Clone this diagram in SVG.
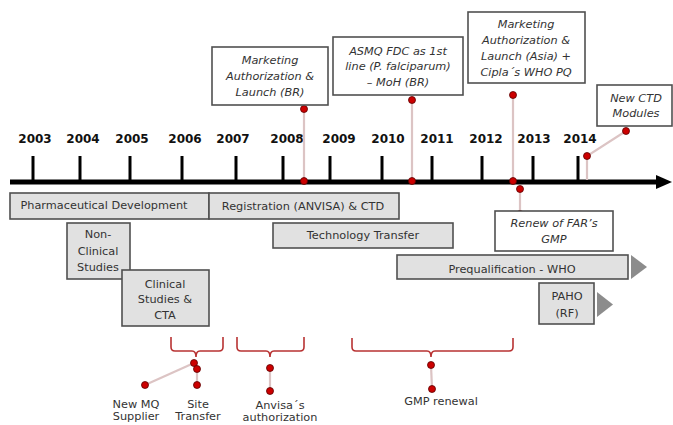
<svg xmlns="http://www.w3.org/2000/svg" width="673" height="425" viewBox="0 0 673 425">
  <style>
    text { font-family: "DejaVu Sans", Verdana, sans-serif; font-size: 11.3px; fill: #333; text-anchor: middle; }
    .year { font-weight: bold; font-size: 12px; fill: #111; }
    .note { font-style: italic; }
    .bar { fill: #e1e1e1; stroke: #505050; stroke-width: 1.6; }
    .callout { fill: #fff; stroke: #505050; stroke-width: 1.6; }
    .tick { stroke: #000; stroke-width: 3; }
    .stem { stroke: #dcc4c4; stroke-width: 2.2; fill: none; }
    .dot { fill: #cc0000; stroke: #5a0000; stroke-width: 0.8; }
    .brace { fill: none; stroke: #b83232; stroke-width: 1.6; }
    .cont { fill: #8c8c8c; }
  </style>

  <!-- time axis -->
  <g id="axis">
    <line x1="10" y1="182" x2="660" y2="182" stroke="#000" stroke-width="5"/>
    <polygon points="656,175 672,182 656,189" fill="#000"/>
    <line class="tick" x1="33" y1="156" x2="33" y2="182"/>
    <line class="tick" x1="80" y1="156" x2="80" y2="182"/>
    <line class="tick" x1="130" y1="156" x2="130" y2="182"/>
    <line class="tick" x1="182" y1="156" x2="182" y2="182"/>
    <line class="tick" x1="236" y1="156" x2="236" y2="182"/>
    <line class="tick" x1="283" y1="156" x2="283" y2="182"/>
    <line class="tick" x1="330" y1="156" x2="330" y2="182"/>
    <line class="tick" x1="382" y1="156" x2="382" y2="182"/>
    <line class="tick" x1="432" y1="156" x2="432" y2="182"/>
    <line class="tick" x1="482" y1="156" x2="482" y2="182"/>
    <line class="tick" x1="533" y1="156" x2="533" y2="182"/>
    <line class="tick" x1="578" y1="156" x2="578" y2="182"/>
    <text class="year" x="35" y="143">2003</text>
    <text class="year" x="83" y="143">2004</text>
    <text class="year" x="132" y="143">2005</text>
    <text class="year" x="185" y="143">2006</text>
    <text class="year" x="233" y="143">2007</text>
    <text class="year" x="287" y="143">2008</text>
    <text class="year" x="339" y="143">2009</text>
    <text class="year" x="388" y="143">2010</text>
    <text class="year" x="437" y="143">2011</text>
    <text class="year" x="486" y="143">2012</text>
    <text class="year" x="534" y="143">2013</text>
    <text class="year" x="580" y="143">2014</text>
  </g>

  <!-- connectors -->
  <g id="connectors">
    <line class="stem" x1="304" y1="109" x2="304" y2="181"/>
    <line class="stem" x1="412" y1="100" x2="412" y2="181"/>
    <line class="stem" x1="513" y1="95" x2="513" y2="181"/>
    <line class="stem" x1="520" y1="189" x2="520" y2="214"/>
    <polyline class="stem" points="626,131 587,156 587,180"/>
    <line class="stem" x1="145" y1="385" x2="194" y2="363"/>
    <line class="stem" x1="197" y1="369" x2="197" y2="385"/>
    <line class="stem" x1="270" y1="368" x2="270" y2="391"/>
    <line class="stem" x1="431" y1="365" x2="432" y2="389"/>

    <path class="brace" d="M171,337 L171,347 Q171,351 175,351 L192,351 Q196,351 196,357 Q196,351 200,351 L219,351 Q223,351 223,347 L223,337"/>
    <path class="brace" d="M237,337 L237,347 Q237,351 241,351 L266,351 Q270,351 270,357 Q270,351 274,351 L300,351 Q304,351 304,347 L304,337"/>
    <path class="brace" d="M352,338 L352,347 Q352,351 356,351 L427,351 Q431,351 431,357 Q431,351 435,351 L509,351 Q513,351 513,347 L513,338"/>

    <circle class="dot" cx="304" cy="109" r="3.5"/>
    <circle class="dot" cx="304" cy="181" r="3.5"/>
    <circle class="dot" cx="412" cy="100" r="3.5"/>
    <circle class="dot" cx="412" cy="181" r="3.5"/>
    <circle class="dot" cx="513" cy="95" r="3.5"/>
    <circle class="dot" cx="513" cy="181" r="3.5"/>
    <circle class="dot" cx="520" cy="189" r="3.5"/>
    <circle class="dot" cx="520" cy="214" r="3.5"/>
    <circle class="dot" cx="626" cy="131" r="3.5"/>
    <circle class="dot" cx="587" cy="156" r="3.5"/>
    <circle class="dot" cx="194" cy="363" r="3.5"/>
    <circle class="dot" cx="197" cy="369" r="3.5"/>
    <circle class="dot" cx="145" cy="385" r="3.5"/>
    <circle class="dot" cx="197" cy="385" r="3.5"/>
    <circle class="dot" cx="270" cy="368" r="3.5"/>
    <circle class="dot" cx="270" cy="391" r="3.5"/>
    <circle class="dot" cx="431" cy="365" r="3.5"/>
    <circle class="dot" cx="432" cy="389" r="3.5"/>
  </g>

  <!-- phase bars -->
  <g id="pharma-dev">
    <rect class="bar" x="10" y="193" width="199" height="26"/>
    <text x="104" y="209">Pharmaceutical Development</text>
  </g>
  <g id="registration">
    <rect class="bar" x="209" y="193" width="190" height="26"/>
    <text x="303" y="210">Registration (ANVISA) &amp; CTD</text>
  </g>
  <g id="tech-transfer">
    <rect class="bar" x="273" y="223" width="180" height="25"/>
    <text x="363" y="239">Technology Transfer</text>
  </g>
  <g id="non-clinical">
    <rect class="bar" x="67" y="223" width="63" height="56"/>
    <text x="98" y="238">Non-</text>
    <text x="98" y="255">Clinical</text>
    <text x="98" y="271">Studies</text>
  </g>
  <g id="clinical">
    <rect class="bar" x="122" y="270" width="87" height="56"/>
    <text x="165" y="288">Clinical</text>
    <text x="165" y="303">Studies &amp;</text>
    <text x="165" y="319">CTA</text>
  </g>
  <g id="prequalification">
    <rect class="bar" x="397" y="255" width="231" height="24"/>
    <polygon class="cont" points="631,255 647,267 631,279"/>
    <text x="512" y="273">Prequalification - WHO</text>
  </g>
  <g id="paho">
    <rect class="bar" x="539" y="283" width="55" height="41"/>
    <polygon class="cont" points="597,292 613,304.5 597,317"/>
    <text x="567" y="300">PAHO</text>
    <text x="567" y="317">(RF)</text>
  </g>

  <!-- milestone callouts -->
  <g id="launch-br">
    <rect class="callout" x="212" y="47" width="116" height="58"/>
    <text class="note" x="270" y="64">Marketing</text>
    <text class="note" x="270" y="80">Authorization &amp;</text>
    <text class="note" x="270" y="96">Launch (BR)</text>
  </g>
  <g id="asmq">
    <rect class="callout" x="333" y="37" width="130" height="58"/>
    <text class="note" x="398" y="55">ASMQ FDC as 1st</text>
    <text class="note" x="398" y="70">line (P. falciparum)</text>
    <text class="note" x="398" y="86">– MoH (BR)</text>
  </g>
  <g id="launch-asia">
    <rect class="callout" x="468" y="12" width="117" height="71"/>
    <text class="note" x="526" y="28">Marketing</text>
    <text class="note" x="526" y="44">Authorization &amp;</text>
    <text class="note" x="526" y="60">Launch (Asia) +</text>
    <text class="note" x="526" y="76">Cipla´s WHO PQ</text>
  </g>
  <g id="new-ctd">
    <rect class="callout" x="597" y="85" width="75" height="41"/>
    <text class="note" x="636" y="102">New CTD</text>
    <text class="note" x="636" y="117">Modules</text>
  </g>
  <g id="renew-gmp">
    <rect class="callout" x="495" y="211" width="118" height="40"/>
    <text class="note" x="554" y="227">Renew of FAR’s</text>
    <text class="note" x="554" y="243">GMP</text>
  </g>

  <!-- event labels -->
  <g id="new-mq">
    <text x="136" y="408">New MQ</text>
    <text x="136" y="420">Supplier</text>
  </g>
  <g id="site-transfer">
    <text x="198" y="408">Site</text>
    <text x="198" y="420">Transfer</text>
  </g>
  <g id="anvisa-auth">
    <text x="280" y="409">Anvisa´s</text>
    <text x="280" y="421">authorization</text>
  </g>
  <g id="gmp-renewal">
    <text x="441" y="405">GMP renewal</text>
  </g>
</svg>
